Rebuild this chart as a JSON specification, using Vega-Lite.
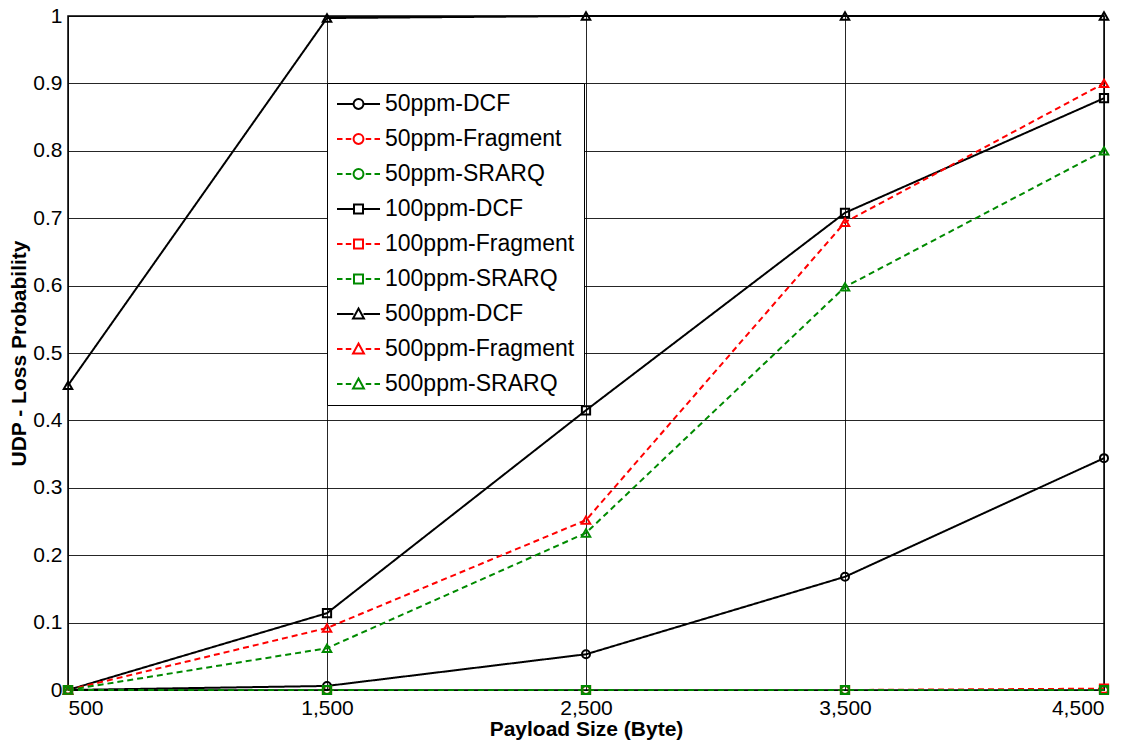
{
  "$schema": "https://vega.github.io/schema/vega-lite/v6.json",
  "autosize": "none",
  "width": 1036,
  "height": 674,
  "padding": {"left": 68, "top": 16, "right": 41, "bottom": 59},
  "background": "white",
  "config": {
    "font": "Liberation Sans",
    "view": {"stroke": "black", "strokeWidth": 1.5},
    "axis": {
      "grid": true,
      "gridColor": "#000000",
      "gridOpacity": 0.85,
      "gridWidth": 1,
      "domain": false,
      "ticks": false,
      "labelFont": "Liberation Sans",
      "labelFontSize": 21,
      "labelColor": "#000000",
      "titleFont": "Liberation Sans",
      "titleFontSize": 21,
      "titleFontWeight": "bold",
      "titleColor": "#000000"
    }
  },
  "data": {
    "values": [
      {"size": 500, "prob": 0, "series": "50ppm-DCF", "rate": "50ppm", "scheme": "DCF"},
      {"size": 1500, "prob": 0.006, "series": "50ppm-DCF", "rate": "50ppm", "scheme": "DCF"},
      {"size": 2500, "prob": 0.053, "series": "50ppm-DCF", "rate": "50ppm", "scheme": "DCF"},
      {"size": 3500, "prob": 0.168, "series": "50ppm-DCF", "rate": "50ppm", "scheme": "DCF"},
      {"size": 4500, "prob": 0.344, "series": "50ppm-DCF", "rate": "50ppm", "scheme": "DCF"},
      {"size": 500, "prob": 0, "series": "50ppm-Fragment", "rate": "50ppm", "scheme": "Fragment"},
      {"size": 1500, "prob": 0, "series": "50ppm-Fragment", "rate": "50ppm", "scheme": "Fragment"},
      {"size": 2500, "prob": 0, "series": "50ppm-Fragment", "rate": "50ppm", "scheme": "Fragment"},
      {"size": 3500, "prob": 0, "series": "50ppm-Fragment", "rate": "50ppm", "scheme": "Fragment"},
      {"size": 4500, "prob": 0, "series": "50ppm-Fragment", "rate": "50ppm", "scheme": "Fragment"},
      {"size": 500, "prob": 0, "series": "50ppm-SRARQ", "rate": "50ppm", "scheme": "SRARQ"},
      {"size": 1500, "prob": 0, "series": "50ppm-SRARQ", "rate": "50ppm", "scheme": "SRARQ"},
      {"size": 2500, "prob": 0, "series": "50ppm-SRARQ", "rate": "50ppm", "scheme": "SRARQ"},
      {"size": 3500, "prob": 0, "series": "50ppm-SRARQ", "rate": "50ppm", "scheme": "SRARQ"},
      {"size": 4500, "prob": 0, "series": "50ppm-SRARQ", "rate": "50ppm", "scheme": "SRARQ"},
      {"size": 500, "prob": 0, "series": "100ppm-DCF", "rate": "100ppm", "scheme": "DCF"},
      {"size": 1500, "prob": 0.114, "series": "100ppm-DCF", "rate": "100ppm", "scheme": "DCF"},
      {"size": 2500, "prob": 0.415, "series": "100ppm-DCF", "rate": "100ppm", "scheme": "DCF"},
      {"size": 3500, "prob": 0.708, "series": "100ppm-DCF", "rate": "100ppm", "scheme": "DCF"},
      {"size": 4500, "prob": 0.878, "series": "100ppm-DCF", "rate": "100ppm", "scheme": "DCF"},
      {"size": 500, "prob": 0, "series": "100ppm-Fragment", "rate": "100ppm", "scheme": "Fragment"},
      {"size": 1500, "prob": 0, "series": "100ppm-Fragment", "rate": "100ppm", "scheme": "Fragment"},
      {"size": 2500, "prob": 0, "series": "100ppm-Fragment", "rate": "100ppm", "scheme": "Fragment"},
      {"size": 3500, "prob": 0, "series": "100ppm-Fragment", "rate": "100ppm", "scheme": "Fragment"},
      {"size": 4500, "prob": 0.002, "series": "100ppm-Fragment", "rate": "100ppm", "scheme": "Fragment"},
      {"size": 500, "prob": 0, "series": "100ppm-SRARQ", "rate": "100ppm", "scheme": "SRARQ"},
      {"size": 1500, "prob": 0, "series": "100ppm-SRARQ", "rate": "100ppm", "scheme": "SRARQ"},
      {"size": 2500, "prob": 0, "series": "100ppm-SRARQ", "rate": "100ppm", "scheme": "SRARQ"},
      {"size": 3500, "prob": 0, "series": "100ppm-SRARQ", "rate": "100ppm", "scheme": "SRARQ"},
      {"size": 4500, "prob": 0, "series": "100ppm-SRARQ", "rate": "100ppm", "scheme": "SRARQ"},
      {"size": 500, "prob": 0.452, "series": "500ppm-DCF", "rate": "500ppm", "scheme": "DCF"},
      {"size": 1500, "prob": 0.997, "series": "500ppm-DCF", "rate": "500ppm", "scheme": "DCF"},
      {"size": 2500, "prob": 1, "series": "500ppm-DCF", "rate": "500ppm", "scheme": "DCF"},
      {"size": 3500, "prob": 1, "series": "500ppm-DCF", "rate": "500ppm", "scheme": "DCF"},
      {"size": 4500, "prob": 1, "series": "500ppm-DCF", "rate": "500ppm", "scheme": "DCF"},
      {"size": 500, "prob": 0, "series": "500ppm-Fragment", "rate": "500ppm", "scheme": "Fragment"},
      {"size": 1500, "prob": 0.092, "series": "500ppm-Fragment", "rate": "500ppm", "scheme": "Fragment"},
      {"size": 2500, "prob": 0.252, "series": "500ppm-Fragment", "rate": "500ppm", "scheme": "Fragment"},
      {"size": 3500, "prob": 0.694, "series": "500ppm-Fragment", "rate": "500ppm", "scheme": "Fragment"},
      {"size": 4500, "prob": 0.9, "series": "500ppm-Fragment", "rate": "500ppm", "scheme": "Fragment"},
      {"size": 500, "prob": 0, "series": "500ppm-SRARQ", "rate": "500ppm", "scheme": "SRARQ"},
      {"size": 1500, "prob": 0.062, "series": "500ppm-SRARQ", "rate": "500ppm", "scheme": "SRARQ"},
      {"size": 2500, "prob": 0.233, "series": "500ppm-SRARQ", "rate": "500ppm", "scheme": "SRARQ"},
      {"size": 3500, "prob": 0.598, "series": "500ppm-SRARQ", "rate": "500ppm", "scheme": "SRARQ"},
      {"size": 4500, "prob": 0.8, "series": "500ppm-SRARQ", "rate": "500ppm", "scheme": "SRARQ"}
    ]
  },
  "encoding": {
    "x": {
      "field": "size",
      "type": "quantitative",
      "title": "Payload Size (Byte)",
      "scale": {"domain": [500, 4500], "nice": false, "zero": false},
      "axis": {"values": [500, 1500, 2500, 3500, 4500], "format": ",.0f", "labelPadding": 7, "titlePadding": 0}
    },
    "y": {
      "field": "prob",
      "type": "quantitative",
      "title": "UDP - Loss Probability",
      "scale": {"domain": [0, 1], "nice": false},
      "axis": {"values": [0, 0.1, 0.2, 0.3, 0.4, 0.5, 0.6, 0.7, 0.8, 0.9, 1], "format": "~g", "labelPadding": 6, "titlePadding": 3}
    },
    "color": {
      "field": "series",
      "type": "nominal",
      "scale": {
        "domain": ["50ppm-DCF", "50ppm-Fragment", "50ppm-SRARQ", "100ppm-DCF", "100ppm-Fragment", "100ppm-SRARQ", "500ppm-DCF", "500ppm-Fragment", "500ppm-SRARQ"],
        "range": ["#000000", "#ff0000", "#008a00", "#000000", "#ff0000", "#008a00", "#000000", "#ff0000", "#008a00"]
      },
      "legend": {
        "title": null,
        "orient": "none",
        "legendX": 259,
        "legendY": 67,
        "fillColor": "white",
        "strokeColor": "black",
        "padding": 9,
        "symbolSize": 484,
        "symbolStrokeWidth": 2,
        "labelFont": "Liberation Sans",
        "labelFontSize": 23,
        "labelColor": "#000000",
        "labelOffset": 25,
        "rowPadding": 11,
        "labelLimit": 400,
        "encoding": {
          "symbols": {
            "shape": {"value": {"expr": "(indexof(datum.value,'DCF')>=0 ? 'M-1,0H0.5M1.41,0H2.91' : 'M-1,0H-0.5M-0.2,0H0.3M1.61,0H2.11M2.41,0H2.91') + (indexof(datum.value,'500ppm')==0 ? 'M0.955,-0.5L1.45,0.4H0.46Z' : (indexof(datum.value,'100ppm')==0 ? 'M0.545,-0.41H1.365V0.41H0.545Z' : 'M0.505,0A0.45,0.45,0,1,1,1.405,0A0.45,0.45,0,1,1,0.505,0Z'))"}},
            "fill": {"value": "transparent"},
            "strokeDash": {"value": []},
            "strokeWidth": {"value": 2},
            "opacity": {"value": 1}
          }
        }
      }
    }
  },
  "layer": [
    {
      "mark": {"type": "line", "strokeWidth": 2},
      "encoding": {
        "strokeDash": {
          "field": "scheme",
          "type": "nominal",
          "scale": {"domain": ["DCF", "Fragment", "SRARQ"], "range": [[1, 0], [6, 4], [6, 4]]},
          "legend": null
        }
      }
    },
    {
      "mark": {"type": "point", "filled": false, "strokeWidth": 2, "opacity": 1},
      "encoding": {
        "shape": {
          "field": "rate",
          "type": "nominal",
          "scale": {"domain": ["50ppm", "100ppm", "500ppm"], "range": ["circle", "square", "triangle-up"]},
          "legend": null
        },
        "size": {
          "field": "rate",
          "type": "nominal",
          "scale": {"domain": ["50ppm", "100ppm", "500ppm"], "range": [64, 72, 130]},
          "legend": null
        }
      }
    }
  ]
}
